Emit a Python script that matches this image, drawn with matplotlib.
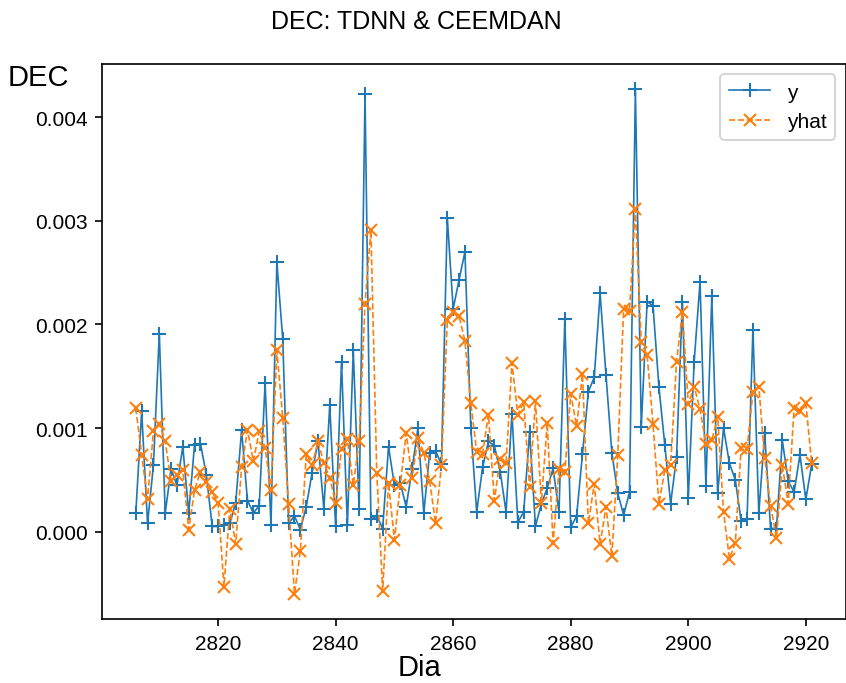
import matplotlib
matplotlib.use("Agg")
import matplotlib.pyplot as plt
from matplotlib.ticker import MultipleLocator

plt.rcParams['font.family'] = ['Liberation Sans', 'DejaVu Sans']

days = list(range(2806, 2922))

y = [
    0.00018, 0.00116, 0.00008, 0.00064, 0.00191, 0.00018, 0.00060, 0.00045, 0.00082, 0.00018,
    0.00084, 0.00085, 0.00055, 0.00005, 0.00005, 0.00006, 0.00008, 0.00028, 0.00098, 0.00030,
    0.00018, 0.00025, 0.00143, 0.00006, 0.00260, 0.00186, 0.00008, 0.00015, 0.00002, 0.00024,
    0.00057, 0.00087, 0.00022, 0.00122, 0.00005, 0.00164, 0.00006, 0.00175, 0.00022, 0.00422,
    0.00012, 0.00015, 0.00003, 0.00082, 0.00045, 0.00047, 0.00024, 0.00060, 0.00100, 0.00018,
    0.00076, 0.00078, 0.00065, 0.00303, 0.00215, 0.00243, 0.00270, 0.00100, 0.00019, 0.00062,
    0.00087, 0.00083, 0.00058, 0.00019, 0.00114, 0.00009, 0.00019, 0.00096, 0.00005, 0.00027,
    0.00042, 0.00061, 0.00019, 0.00205, 0.00004, 0.00015, 0.00075, 0.00135, 0.00149, 0.00230,
    0.00151, 0.00076, 0.00037, 0.00016, 0.00038, 0.00427, 0.00101, 0.00222, 0.00218, 0.00140,
    0.00084, 0.00027, 0.00072, 0.00222, 0.00032, 0.00164, 0.00241, 0.00044, 0.00227, 0.00037,
    0.00100, 0.00066, 0.00050, 0.00010, 0.00012, 0.00195, 0.00018, 0.00095, 0.00003, 0.00003,
    0.00088, 0.00049, 0.00038, 0.00074, 0.00031, 0.00065,
]

yhat = [
    0.00119, 0.00074, 0.00031, 0.00097, 0.00104, 0.00087, 0.00049, 0.00055, 0.00059, 0.00002,
    0.00040, 0.00058, 0.00048, 0.00038, 0.00028, -0.00053, 0.00022, -0.00012, 0.00062, 0.00098,
    0.00068, 0.00097, 0.00081, 0.00040, 0.00175, 0.00110, 0.00027, -0.00060, -0.00019, 0.00075,
    0.00064, 0.00087, 0.00066, 0.00052, 0.00028, 0.00080, 0.00089, 0.00045, 0.00087, 0.00220,
    0.00291, 0.00057, -0.00057, 0.00047, -0.00008, 0.00045, 0.00095, 0.00052, 0.00090, 0.00076,
    0.00049, 0.00008, 0.00064, 0.00204, 0.00212, 0.00208, 0.00184, 0.00124, 0.00077, 0.00075,
    0.00113, 0.00030, 0.00070, 0.00066, 0.00163, 0.00113, 0.00125, 0.00043, 0.00126, 0.00028,
    0.00105, -0.00011, 0.00060, 0.00058, 0.00133, 0.00102, 0.00152, 0.00008, 0.00046, -0.00012,
    0.00024, -0.00024, 0.00074, 0.00215, 0.00213, 0.00311, 0.00183, 0.00170, 0.00104, 0.00027,
    0.00059, 0.00064, 0.00164, 0.00212, 0.00123, 0.00140, 0.00118, 0.00085, 0.00088, 0.00111,
    0.00019, -0.00026, -0.00011, 0.00081, 0.00080, 0.00135, 0.00140, 0.00071, 0.00025, -0.00006,
    0.00064, 0.00027, 0.00119, 0.00116, 0.00124, 0.00066,
]

title = "DEC: TDNN & CEEMDAN"
xlabel = "Dia"
ylabel = "DEC"

fig = plt.figure(figsize=(5.64, 4.56), dpi=150)
ax = fig.add_axes([102/846, 1 - 620/684, (845.5 - 102)/846, (620 - 65)/684])

ax.plot(days, y, color='C0', marker='+', linestyle='-', linewidth=0.8,
        markersize=7, label='y')
ax.plot(days, yhat, color='C1', marker='x', linestyle='--', linewidth=0.8,
        markersize=6, label='yhat')

ax.yaxis.set_major_locator(MultipleLocator(0.001))
ax.tick_params(labelsize=10)

ax.set_xlabel(xlabel, fontsize=14)
ax.xaxis.set_label_coords((419 - 102)/743.5, (620 - 668)/555)
ax.xaxis.label.set_va('center')

ax.set_ylabel(ylabel, fontsize=14, rotation=0, ha='center', va='center')
ax.yaxis.set_label_coords((38 - 102)/743.5, (620 - 78)/555)

fig.suptitle(title, fontsize=12, x=416/846, y=1 - 22/684, va='center')

ax.legend(loc='upper right', fontsize=10)

fig.savefig("out.png", dpi=150)
